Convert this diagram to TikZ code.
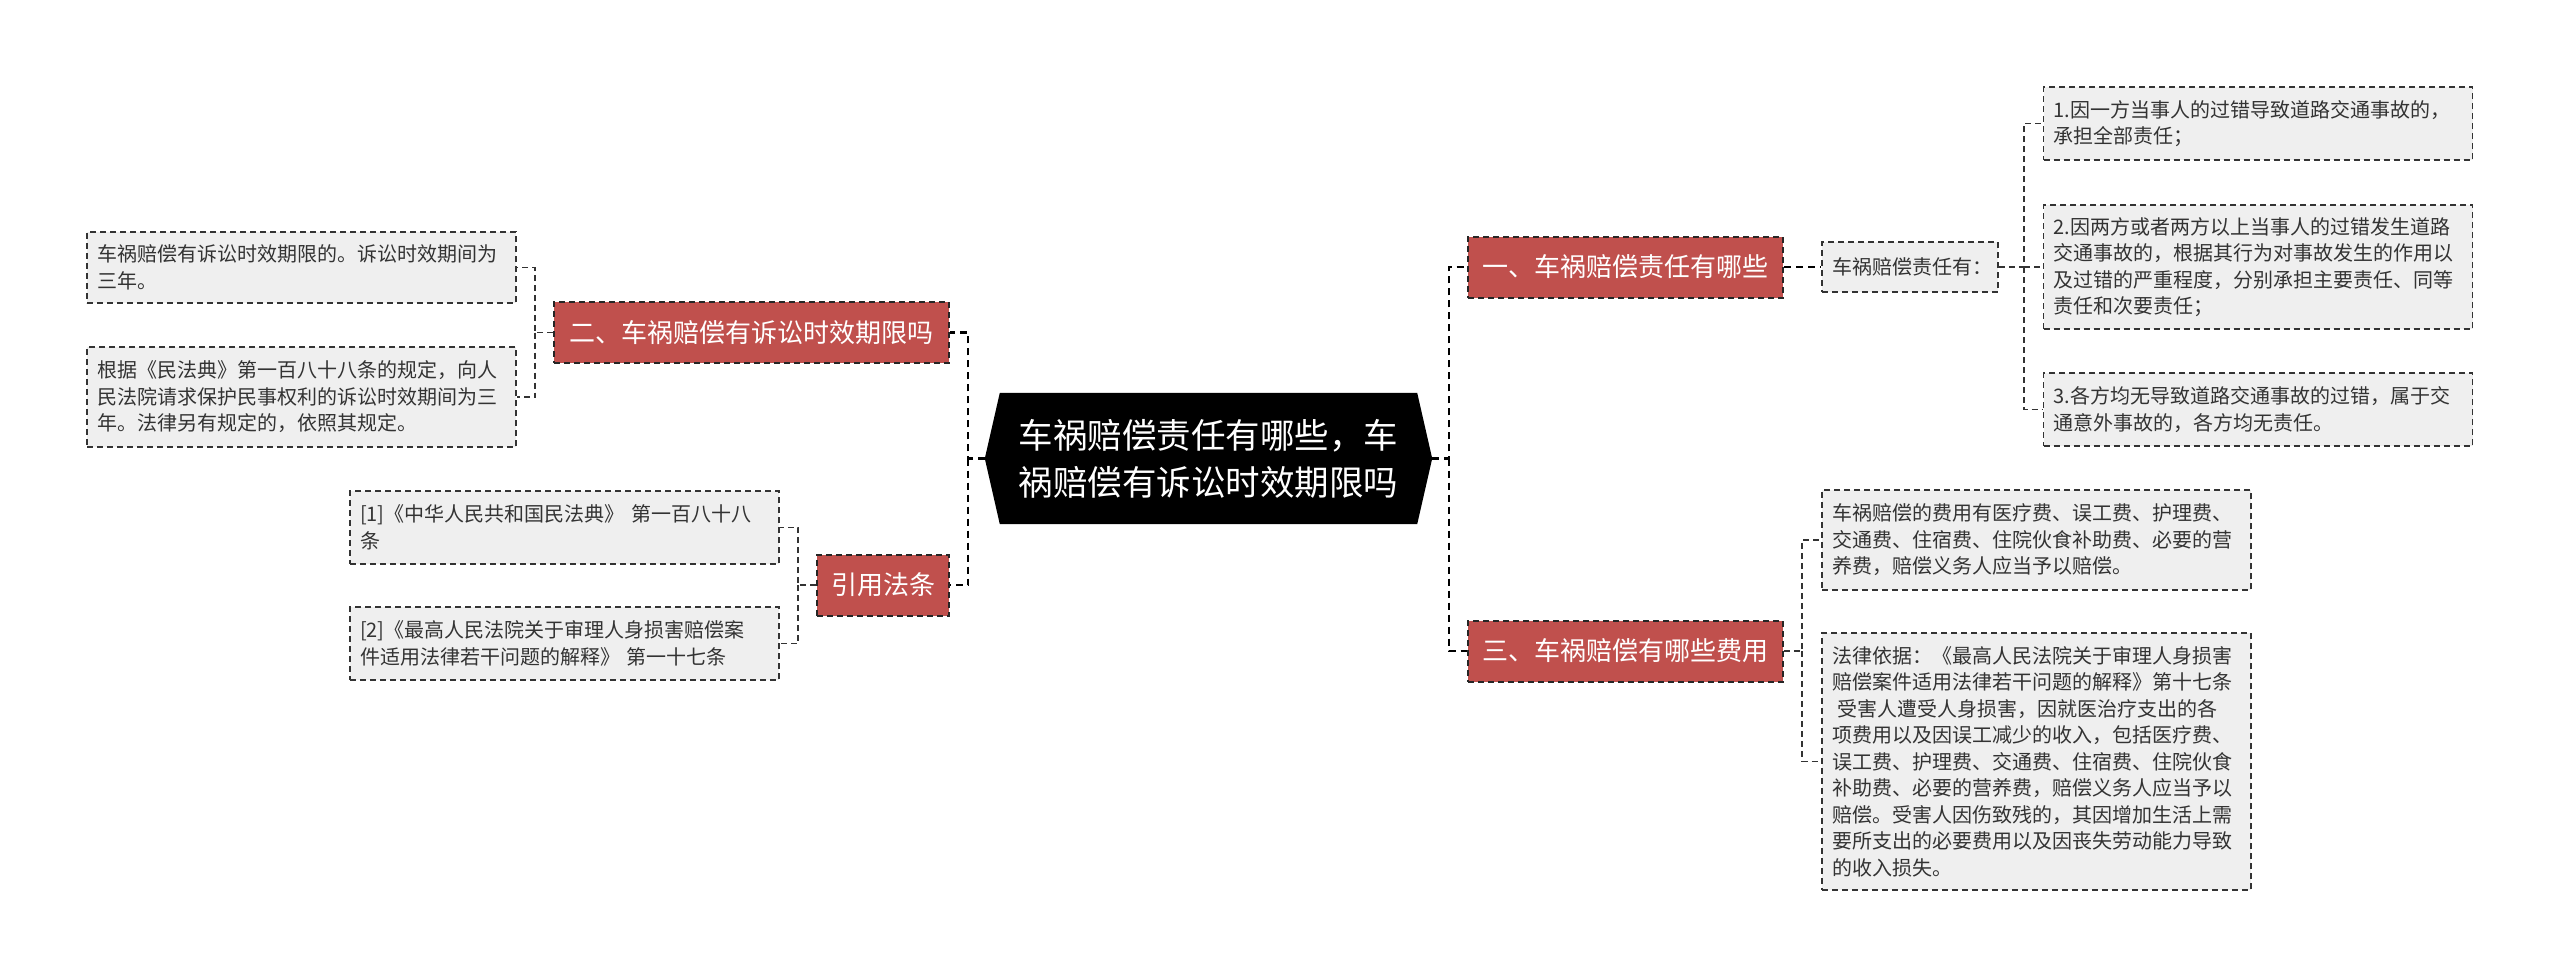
\documentclass[tikz,border=0pt]{standalone}
\usepackage{fontspec}
\setmainfont{Noto Sans CJK SC}
\usetikzlibrary{backgrounds}
\definecolor{redbox}{HTML}{C0504D}
\definecolor{graybox}{HTML}{EFEFEF}
\definecolor{linec}{HTML}{333333}
\tikzset{
  leaf/.style={draw=linec, line width=1.6pt, dash pattern=on 6pt off 4pt, fill=graybox, text=linec,
    font=\fontsize{20}{26.5}\selectfont, align=left, inner xsep=10pt, inner ysep=0pt, text width=409pt},
  branch/.style={draw=black!85, line width=2pt, dash pattern=on 6pt off 4pt, fill=redbox, text=white,
    font=\fontsize{26}{30}\selectfont, inner xsep=0pt, inner ysep=0pt, minimum height=61pt, align=center},
  trunk/.style={draw=black, line width=2.6pt, dash pattern=on 7pt off 5pt},
  twig/.style={draw=linec, line width=1.7pt, dash pattern=on 6pt off 4pt},
}
\begin{document}
\begin{tikzpicture}[x=1pt,y=-1pt]
\useasboundingbox (0,0) rectangle (2560,978);

% centre
\node[text=white, font=\fontsize{34.5}{47}\selectfont, align=center, minimum width=417pt,
  minimum height=131pt, inner sep=0pt] (c) at (1208.5,458.5) {车祸赔偿责任有哪些，车\\祸赔偿有诉讼时效期限吗};
\coordinate (cL) at ([xshift=-15pt]c.west);
\coordinate (cR) at ([xshift=15pt]c.east);
\begin{scope}[on background layer]
  \fill[black] (cL) -- (c.north west) -- (c.north east) -- (cR) -- (c.south east) -- (c.south west) -- cycle;
\end{scope}

% right side
\node[branch, minimum width=315pt] (b1) at (1625.5,267) {一、车祸赔偿责任有哪些};
\node[leaf, text width=156pt, minimum height=50pt] (b1a) at (1910,267) {车祸赔偿责任有：};
\node[leaf, minimum height=73pt] (l1) at (2258,123.5) {1.因一方当事人的过错导致道路交通事故的，\\承担全部责任；};
\node[leaf, minimum height=124pt] (l2) at (2258,267) {2.因两方或者两方以上当事人的过错发生道路\\交通事故的，根据其行为对事故发生的作用以\\及过错的严重程度，分别承担主要责任、同等\\责任和次要责任；};
\node[leaf, minimum height=73pt] (l3) at (2258,409.5) {3.各方均无导致道路交通事故的过错，属于交\\通意外事故的，各方均无责任。};

\node[branch, minimum width=315pt] (b3) at (1625.5,651) {三、车祸赔偿有哪些费用};
\node[leaf, minimum height=100pt] (f1) at (2036.5,540) {车祸赔偿的费用有医疗费、误工费、护理费、\\交通费、住宿费、住院伙食补助费、必要的营\\养费，赔偿义务人应当予以赔偿。};
\node[leaf, minimum height=257pt] (f2) at (2036.5,761.5) {法律依据：《最高人民法院关于审理人身损害\\赔偿案件适用法律若干问题的解释》第十七条\\\hspace*{5pt}受害人遭受人身损害，因就医治疗支出的各\\项费用以及因误工减少的收入，包括医疗费、\\误工费、护理费、交通费、住宿费、住院伙食\\补助费、必要的营养费，赔偿义务人应当予以\\赔偿。受害人因伤致残的，其因增加生活上需\\要所支出的必要费用以及因丧失劳动能力导致\\的收入损失。};

% left side
\node[branch, minimum width=395pt] (b2) at (751.5,332.5) {二、车祸赔偿有诉讼时效期限吗};
\node[leaf, minimum height=71pt] (s1) at (301.5,267.5) {车祸赔偿有诉讼时效期限的。诉讼时效期间为\\三年。};
\node[leaf, minimum height=100pt] (s2) at (301.5,397) {根据《民法典》第一百八十八条的规定，向人\\民法院请求保护民事权利的诉讼时效期间为三\\年。法律另有规定的，依照其规定。};

\node[branch, minimum width=132pt] (b4) at (883,585) {引用法条};
\node[leaf, minimum height=73pt] (r1) at (564.5,527.5) {[1]《中华人民共和国民法典》 第一百八十八\\条};
\node[leaf, minimum height=73pt] (r2) at (564.5,643.5) {[2]《最高人民法院关于审理人身损害赔偿案\\件适用法律若干问题的解释》 第一十七条};

% junctions
\coordinate (jR) at (1449,458.5);
\coordinate (jL) at (968,458.5);
\coordinate (j1) at (2024,267);
\coordinate (j3) at (1802,651);
\coordinate (j2) at (535,332.5);
\coordinate (j4) at (798,585);

% connectors
\draw[trunk] (cR) -- (jR) |- (b1.west);
\draw[trunk] (jR) |- (b3.west);
\draw[trunk] (cL) -- (jL) |- (b2.east);
\draw[trunk] (jL) |- (b4.east);
\draw[trunk] (b1.east) -- (b1a.west);
\draw[twig] (b1a.east) -- (j1) |- (l1.west);
\draw[twig] (j1) -- (l2.west);
\draw[twig] (j1) |- (l3.west);
\draw[twig] (b3.east) -- (j3) |- (f1.west);
\draw[twig] (j3) |- (f2.west);
\draw[twig] (b2.west) -- (j2) |- (s1.east);
\draw[twig] (j2) |- (s2.east);
\draw[twig] (b4.west) -- (j4) |- (r1.east);
\draw[twig] (j4) |- (r2.east);
\end{tikzpicture}
\end{document}
